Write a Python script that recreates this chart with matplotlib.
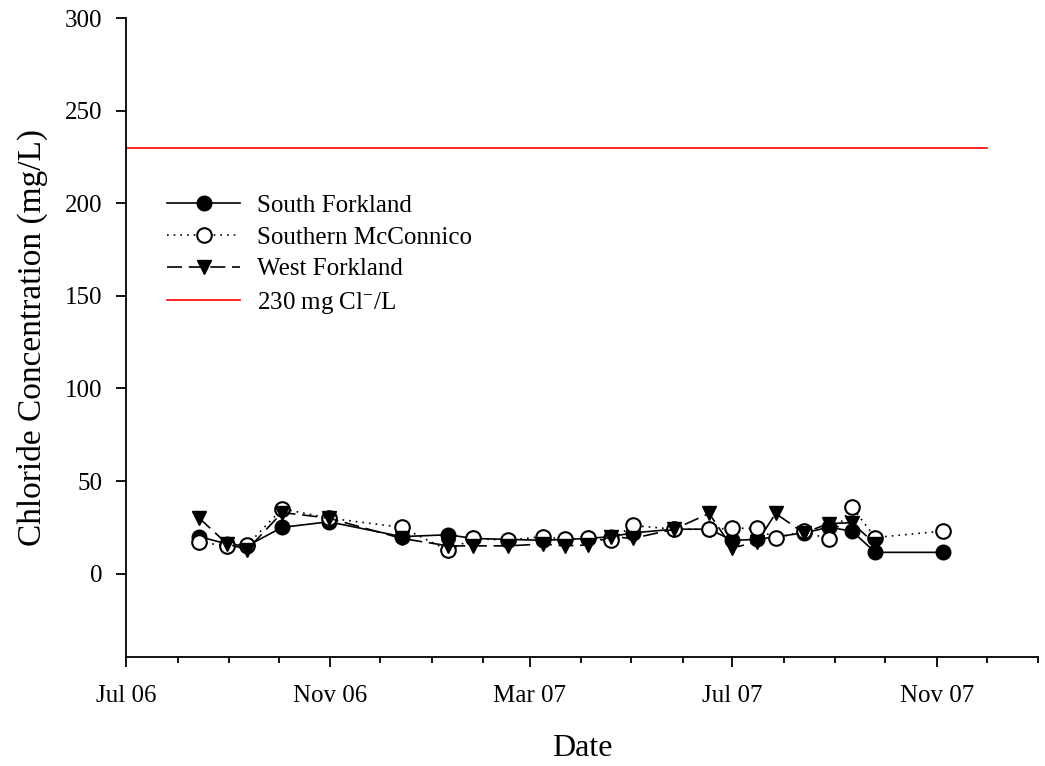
import matplotlib
matplotlib.use('agg')
import matplotlib.pyplot as plt
import matplotlib.dates as mdates
import pandas as pd

plt.rcParams['font.family'] = ['Liberation Serif', 'DejaVu Serif']
plt.rcParams['mathtext.fontset'] = 'custom'
plt.rcParams['mathtext.rm'] = 'Liberation Serif'
plt.rcParams['mathtext.it'] = 'Liberation Serif:italic'

# chloride samples (mg/L)
sf_dates = ['2006-08-14', '2006-08-31', '2006-09-12', '2006-10-03', '2006-10-31',
            '2006-12-14', '2007-01-11', '2007-01-26', '2007-03-09', '2007-04-05',
            '2007-04-19', '2007-05-02', '2007-05-27', '2007-06-17', '2007-07-01',
            '2007-07-16', '2007-08-13', '2007-08-28', '2007-09-11', '2007-09-25',
            '2007-11-05']
sf_vals = [20, 16, 15, 25, 28, 20, 21, 19, 18, 19, 20, 22, 24, 24, 18, 18.5,
           22, 25, 23, 11.5, 11.5]

sm_dates = ['2006-08-14', '2006-08-31', '2006-09-12', '2006-10-03', '2006-10-31',
            '2006-12-14', '2007-01-11', '2007-01-26', '2007-02-16', '2007-03-09',
            '2007-03-22', '2007-04-05', '2007-04-19', '2007-05-02', '2007-05-27',
            '2007-06-17', '2007-07-01', '2007-07-16', '2007-07-27', '2007-08-13',
            '2007-08-28', '2007-09-11', '2007-09-25', '2007-11-05']
sm_vals = [17, 15, 15.5, 35, 30, 25, 12.5, 19, 18, 20, 18.5, 19, 18, 26, 24,
           24, 24.5, 24.5, 19, 23, 18.5, 36, 19.5, 23]

wf_dates = ['2006-08-14', '2006-08-31', '2006-09-12', '2006-10-03', '2006-10-31',
            '2006-12-14', '2007-01-11', '2007-01-26', '2007-02-16', '2007-03-09',
            '2007-03-22', '2007-04-05', '2007-04-19', '2007-05-02', '2007-05-27',
            '2007-06-17', '2007-07-01', '2007-07-16', '2007-07-27', '2007-08-13',
            '2007-08-28', '2007-09-11', '2007-09-25']
wf_vals = [30, 16, 13, 33, 30, 19, 15, 15, 15, 16, 15, 15.5, 20, 19, 24,
           32.5, 14, 17, 32.5, 22, 27, 27.5, 16]

limit_dates = ['2006-07-01', '2007-12-01']
limit_value = 230

fig = plt.figure(figsize=(10.45, 7.66), dpi=100)
ax = fig.add_axes([0.1206, 0.1423, 0.8727, 0.8342])

ax.plot(pd.to_datetime(sf_dates), sf_vals, color='black', lw=1.2, ls='-',
        marker='o', ms=10.5, mfc='black', mec='black', label='South Forkland')
ax.plot(pd.to_datetime(sm_dates), sm_vals, color='black', lw=1.2, ls=(0, (1, 3)),
        marker='o', ms=10.5, mfc='white', mec='black', mew=1.5,
        label='Southern McConnico')
ax.plot(pd.to_datetime(wf_dates), wf_vals, color='black', lw=1.2, ls=(0, (9, 4)),
        marker='v', ms=10.5, mfc='black', mec='black', label='West Forkland')
ax.plot(pd.to_datetime(limit_dates), [limit_value] * 2, color='red', lw=1.2,
        label='230 mg Cl$^{-}$/L')

ax.set_xlim(pd.Timestamp('2006-07-01'), pd.Timestamp('2008-01-01'))
ax.set_ylim(-45, 300)
ax.set_yticks(range(0, 301, 50))

ax.xaxis.set_major_locator(mdates.MonthLocator(bymonth=[3, 7, 11]))
ax.xaxis.set_major_formatter(mdates.DateFormatter('%b %y'))
ax.xaxis.set_minor_locator(mdates.MonthLocator())

for s in ['top', 'right']:
    ax.spines[s].set_visible(False)
for s in ['left', 'bottom']:
    ax.spines[s].set_linewidth(1.3)

ax.tick_params(axis='both', which='major', direction='out', labelsize=18,
               width=1.3, length=7.2)
ax.tick_params(axis='x', which='major', pad=13)
ax.tick_params(axis='x', which='minor', length=4.3, width=1.3)
ax.tick_params(axis='y', which='major', pad=10)

ax.set_xlabel('Date', fontsize=23, labelpad=19.5)
ax.set_ylabel('Chloride Concentration (mg/L)', fontsize=24, labelpad=12)

ax.legend(loc='upper left', bbox_to_anchor=(0.045, 0.724), frameon=False,
          fontsize=18, handlelength=2.92, handletextpad=0.68, labelspacing=0.37,
          borderpad=0, borderaxespad=0)

fig.savefig('out.png', dpi=100)
